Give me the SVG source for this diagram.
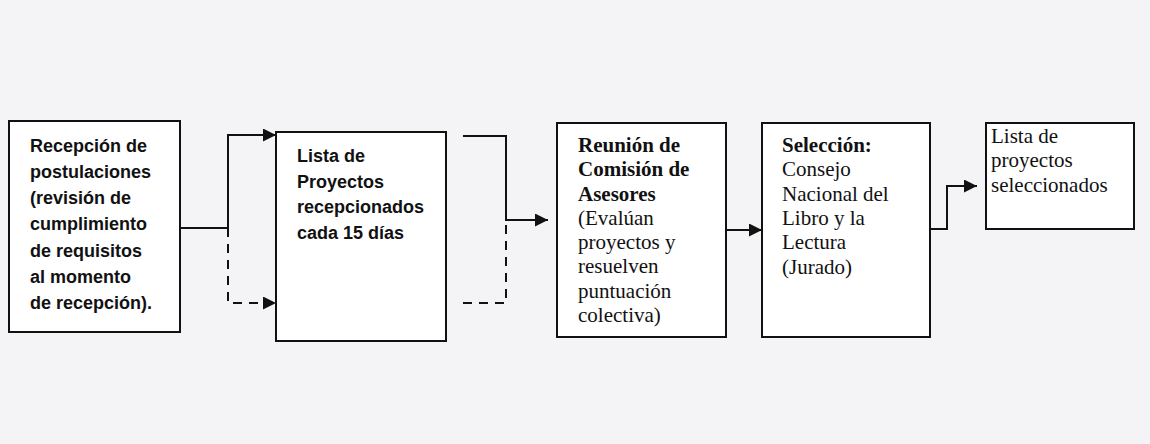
<svg xmlns="http://www.w3.org/2000/svg" width="1150" height="444" viewBox="0 0 1150 444">
<style>
.box{fill:#fff;stroke:#111;stroke-width:2}
.sans{font-family:"Liberation Sans",Arial,sans-serif;font-weight:bold;font-size:18px;fill:#111}
.serif{font-family:"Liberation Serif","Times New Roman",serif;font-size:21px;fill:#111}
.b{font-weight:bold}
.ln{fill:none;stroke:#111;stroke-width:2}
.dash{stroke-dasharray:9 7}
</style>
<defs>
<marker id="arr" viewBox="0 0 13 13" refX="13" refY="6.5" markerWidth="13" markerHeight="13" markerUnits="userSpaceOnUse" orient="auto">
<path d="M0,0 L13,6.5 L0,13 z" fill="#111"/>
</marker>
</defs>
<rect width="1150" height="444" fill="#f4f4f6"/>
<g id="connectors">
<path class="ln" d="M180,228 H228 V135 H276" marker-end="url(#arr)"/>
<path class="ln dash" d="M228,228 V303 H276" marker-end="url(#arr)"/>
<path class="ln" d="M463,136 H506 V220 H548" marker-end="url(#arr)"/>
<path class="ln dash" d="M463,303 H506 V225"/>
<path class="ln" d="M726,230 H762" marker-end="url(#arr)"/>
<path class="ln" d="M930,229 H947 V186 H977" marker-end="url(#arr)"/>
</g>
<g id="n1">
<rect class="box" x="9" y="121" width="171" height="211"/>
<text class="sans" x="30" y="152">Recepción de</text>
<text class="sans" x="30" y="178">postulaciones</text>
<text class="sans" x="30" y="204">(revisión de</text>
<text class="sans" x="30" y="230">cumplimiento</text>
<text class="sans" x="30" y="257">de requisitos</text>
<text class="sans" x="30" y="283">al momento</text>
<text class="sans" x="30" y="309">de recepción).</text>
</g>
<g id="n2">
<rect class="box" x="276" y="132" width="170" height="209"/>
<text class="sans" x="297" y="162">Lista de</text>
<text class="sans" x="297" y="188">Proyectos</text>
<text class="sans" x="297" y="213">recepcionados</text>
<text class="sans" x="297" y="239">cada 15 días</text>
</g>
<g id="n3">
<rect class="box" x="557" y="123" width="169" height="214"/>
<text class="serif b" x="578" y="152">Reunión de</text>
<text class="serif b" x="578" y="176">Comisión de</text>
<text class="serif b" x="578" y="201">Asesores</text>
<text class="serif" x="578" y="225">(Evalúan</text>
<text class="serif" x="578" y="249">proyectos y</text>
<text class="serif" x="578" y="273">resuelven</text>
<text class="serif" x="578" y="298">puntuación</text>
<text class="serif" x="578" y="322">colectiva)</text>
</g>
<g id="n4">
<rect class="box" x="762" y="123" width="168" height="214"/>
<text class="serif b" x="782" y="152">Selección:</text>
<text class="serif" x="782" y="176">Consejo</text>
<text class="serif" x="782" y="201">Nacional del</text>
<text class="serif" x="782" y="225">Libro y la</text>
<text class="serif" x="782" y="249">Lectura</text>
<text class="serif" x="782" y="274">(Jurado)</text>
</g>
<g id="n5">
<rect class="box" x="986" y="123" width="148" height="106"/>
<text class="serif" x="991" y="143">Lista de</text>
<text class="serif" x="991" y="167">proyectos</text>
<text class="serif" x="991" y="192">seleccionados</text>
</g>
</svg>
